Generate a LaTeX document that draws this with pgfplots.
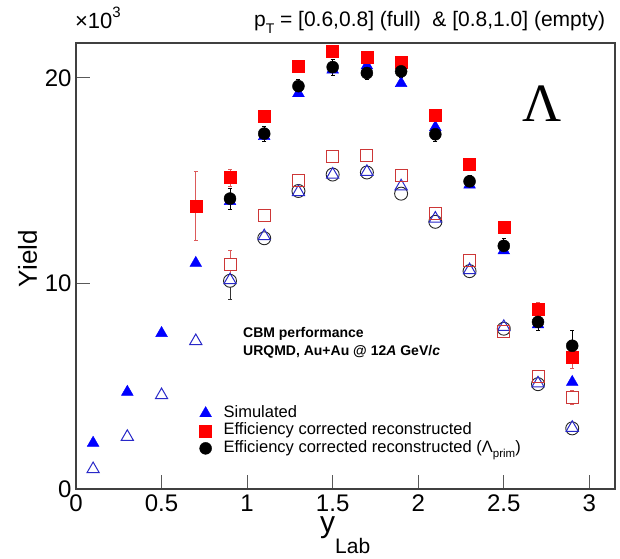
\documentclass[border=0pt]{standalone}
\usepackage{fontspec}
\setmainfont{Liberation Sans}
\newfontfamily\greekserif{Liberation Serif}
\usepackage{pgfplots}
\pgfplotsset{compat=1.18}
\definecolor{sqopen}{RGB}{205,55,55}
\definecolor{triopen}{RGB}{40,40,200}
\definecolor{errred}{RGB}{220,90,90}
\begin{document}
\begin{tikzpicture}
\path[use as bounding box] (-76pt,-69pt) rectangle (544pt,489pt);
\begin{axis}[
  at={(0pt,0pt)}, anchor=south west,
  scale only axis, width=539pt, height=446pt,
  xmin=0, xmax=3.15, ymin=0, ymax=21.7,
  xtick={0,0.5,1,1.5,2,2.5,3}, xticklabels={0,0.5,1,1.5,2,2.5,3},
  ytick={0,10,20}, yticklabels={0,10,20},
  tick align=inside, xtick pos=bottom, ytick pos=left,
  major tick length=14pt,
  axis line style={draw=black!75, line width=1.2pt},
  tick style={draw=black!65, line width=1pt},
  ticklabel style={font=\fontsize{24}{26}\selectfont},
  xticklabel style={yshift=-2pt},
  yticklabel style={xshift=-1pt},
  /pgf/number format/assume math mode=true,
  clip=false,
  legend style={draw=none, fill=none, at={(rel axis cs:0.229,0.188)}, anchor=north west,
    inner sep=0pt, row sep=1.5pt, column sep=12pt,
    nodes={inner sep=0pt, text height=12pt, text depth=4pt, font=\fontsize{16.5}{19}\selectfont}},
  legend cell align=left,
]
% simulated, full
\addplot[only marks, mark=triangle*, mark size=6.8pt, color=blue] coordinates {
(0.1,2.24) (0.3,4.72) (0.5,7.58) (0.7,10.99) (0.9,14.0) (1.1,17.16) (1.3,19.25) (1.5,20.4)
(1.7,20.6) (1.9,19.74) (2.1,17.6) (2.3,14.8) (2.5,11.6) (2.7,8.0) (2.9,5.2)};
\addlegendentry{Simulated}
% efficiency corrected reconstructed, full
\addplot[only marks, mark=square*, mark size=6pt, color=red,
  error bars/.cd, y dir=both, y explicit, error bar style={color=errred, line width=0.8pt}, error mark options={rotate=90, mark size=2pt, color=errred}]
  coordinates {
(0.7,13.77) +- (0,1.67) (0.9,15.15) +- (0,0.4) (1.1,18.13) +- (0,0.2) (1.3,20.58) +- (0,0.25)
(1.5,21.29) +- (0,0.2) (1.7,21.02) +- (0,0.2) (1.9,20.77) +- (0,0.2) (2.1,18.2) +- (0,0.2)
(2.3,15.78) +- (0,0.2) (2.5,12.72) +- (0,0.2) (2.7,8.75) +- (0,0.35) (2.9,6.43) +- (0,0.55)};
\addlegendentry{Efficiency corrected reconstructed}
% efficiency corrected reconstructed (Lambda prim), full
\addplot[only marks, mark=*, mark size=6pt, color=black,
  error bars/.cd, y dir=both, y explicit, error bar style={color=black, line width=0.8pt}, error mark options={rotate=90, mark size=2pt, color=black}]
  coordinates {
(0.9,14.13) +- (0,0.5) (1.1,17.29) +- (0,0.35) (1.3,19.6) +- (0,0.35) (1.5,20.53) +- (0,0.4)
(1.7,20.24) +- (0,0.3) (1.9,20.32) +- (0,0.3) (2.1,17.26) +- (0,0.35) (2.3,14.97) +- (0,0.3)
(2.5,11.83) +- (0,0.35) (2.7,8.13) +- (0,0.4) (2.9,6.97) +- (0,0.75)};
\addlegendentry{Efficiency corrected reconstructed (Λ\raisebox{-0.3em}{\fontsize{11.5}{12}\selectfont prim})}
% eff corr reco (prim), empty
\addplot[only marks, mark=o, mark size=6.5pt, color=black!85, line width=0.9pt, forget plot]
  coordinates {
(1.1,12.2) (1.3,14.5) (1.5,15.3) (1.7,15.4) (1.9,14.37) (2.1,13.0) (2.3,10.6)
(2.5,7.8) (2.7,5.1) (2.9,2.95)};
\addplot[only marks, mark=*, mark size=6.5pt, draw=black!85, fill=white, line width=0.9pt, forget plot,
  error bars/.cd, y dir=both, y explicit, error bar style={color=black!80, line width=0.8pt}, error mark options={rotate=90, mark size=2pt, color=black!80}]
  coordinates {(0.9,10.13) +- (0,0.88)};
% simulated, empty
\addplot[only marks, mark=triangle, mark size=7pt, color=triopen, line width=1pt, forget plot] coordinates {
(0.1,0.97) (0.3,2.54) (0.5,4.57) (0.7,7.2) (0.9,10.16) (1.1,12.3) (1.3,14.45) (1.5,15.3)
(1.7,15.43) (1.9,14.73) (2.1,13.16) (2.3,10.65) (2.5,7.89) (2.7,5.14) (2.9,2.98)};
% eff corr reco, empty
\addplot[only marks, mark=square, mark size=6pt, color=sqopen, line width=1pt, forget plot]
  coordinates {
(1.1,13.29) (1.3,15.02) (1.5,16.2) (1.7,16.24) (1.9,15.27) (2.1,13.4) (2.3,11.1)
(2.5,7.65) (2.7,5.49)};
\addplot[only marks, mark=square*, mark size=6pt, draw=sqopen, fill=white, line width=1pt, forget plot,
  error bars/.cd, y dir=both, y explicit, error bar style={color=errred, line width=0.8pt}, error mark options={rotate=90, mark size=2pt, color=errred}]
  coordinates {(0.9,10.92) +- (0,0.7) (2.9,4.46) +- (0,0.35)};
% texts
\node[anchor=base west, inner sep=0pt, font=\fontsize{21}{24}\selectfont] at (rel axis cs:0.330,1.0359)
  {p\raisebox{-0.3em}{\fontsize{14}{15}\selectfont T} = [0.6,0.8] (full)\ \ \& [0.8,1.0] (empty)};
\node[anchor=base west, inner sep=0pt, font=\fontsize{22}{24}\selectfont] at (rel axis cs:-0.002,1.0336)
  {×10\raisebox{0.5em}{\fontsize{15}{16}\selectfont 3}};
\node[inner sep=0pt, font=\greekserif\fontsize{54}{54}\selectfont] at (rel axis cs:0.8646,0.8632) {Λ};
\node[anchor=base west, inner sep=0pt, font=\bfseries\fontsize{14}{16}\selectfont] at (rel axis cs:0.3098,0.3386) {CBM performance};
\node[anchor=base west, inner sep=0pt, font=\bfseries\fontsize{14}{16}\selectfont] at (rel axis cs:0.3098,0.3004) {URQMD, Au+Au @ 12\textit{A} GeV/\textit{c}};
\node[anchor=base east, rotate=90, inner sep=0pt, font=\fontsize{26}{28}\selectfont] at (rel axis cs:-0.0724,0.5807) {Yield};
\node[anchor=base west, inner sep=0pt, font=\fontsize{30}{32}\selectfont] at (rel axis cs:0.4527,-0.0964)
  {y\raisebox{-0.7em}{\fontsize{21}{22}\selectfont Lab}};
\end{axis}
\end{tikzpicture}
\end{document}
